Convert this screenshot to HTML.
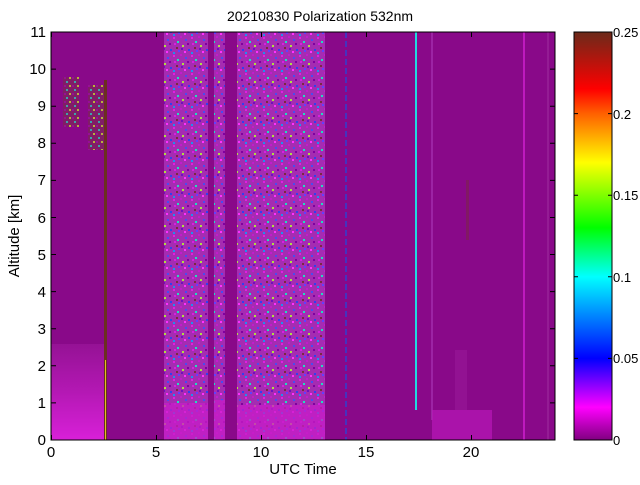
<!DOCTYPE html>
<html><head><meta charset="utf-8"><style>
body{margin:0;background:#fff;}
svg text{font-family:"Liberation Sans",sans-serif;}
</style></head><body>
<svg width="640" height="480" viewBox="0 0 640 480" xmlns="http://www.w3.org/2000/svg">
<defs>
<pattern id="noise" width="18" height="18" patternUnits="userSpaceOnUse">
<rect width="18" height="18" fill="#a52cb2"/>
<rect x="0" y="0" width="2" height="2" fill="#c21ccc"/>
<rect x="5" y="3" width="2" height="2" fill="#4a4cf0"/>
<rect x="11" y="1" width="2" height="2" fill="#e020e0"/>
<rect x="15" y="5" width="2" height="2" fill="#20e0c0"/>
<rect x="2" y="9" width="2" height="2" fill="#b0e040"/>
<rect x="8" y="13" width="2" height="2" fill="#3040f0"/>
<rect x="14" y="11" width="2" height="2" fill="#7a2a40"/>
<rect x="4" y="15" width="2" height="2" fill="#ff30ff"/>
<rect x="11" y="16" width="2" height="2" fill="#2090f0"/>
<rect x="7" y="7" width="2" height="2" fill="#8000a0"/>
<rect x="16" y="14" width="2" height="2" fill="#6040ff"/>
<rect x="1" y="12" width="2" height="2" fill="#7010c0"/>
<rect x="12" y="7" width="2" height="2" fill="#d820e0"/>
</pattern>
<pattern id="cir" width="8" height="8" patternUnits="userSpaceOnUse">
<rect width="8" height="8" fill="#802060"/>
<rect x="2" y="1" width="2" height="2" fill="#30c0b0"/>
<rect x="5" y="5" width="2" height="2" fill="#c0d030"/>
<rect x="0" y="5" width="2" height="2" fill="#9a109a"/>
</pattern>
<linearGradient id="bl" x1="0" y1="1" x2="0" y2="0">
<stop offset="0" stop-color="#d820d8"/><stop offset="0.5" stop-color="#b418b4"/><stop offset="1" stop-color="#951295"/>
</linearGradient>
<linearGradient id="cb" x1="0" y1="1" x2="0" y2="0">
<stop offset="0" stop-color="#800080"/>
<stop offset="0.08" stop-color="#ff00ff"/>
<stop offset="0.2" stop-color="#0000ff"/>
<stop offset="0.4" stop-color="#00ffff"/>
<stop offset="0.52" stop-color="#00ff00"/>
<stop offset="0.68" stop-color="#ffff00"/>
<stop offset="0.8" stop-color="#ff6000"/>
<stop offset="0.86" stop-color="#ff0000"/>
<stop offset="1" stop-color="#6b2a1a"/>
</linearGradient>
</defs>
<text x="320" y="21" font-size="14" text-anchor="middle">20210830 Polarization 532nm</text>
<rect x="51" y="32" width="504" height="408" fill="#890989"/>
<rect x="51" y="344" width="55" height="96" fill="url(#bl)"/>
<rect x="63" y="77" width="16" height="50" fill="url(#cir)" opacity="0.85"/>
<rect x="88" y="85" width="18" height="65" fill="url(#cir)" opacity="0.85"/>
<rect x="104" y="80" width="3" height="360" fill="#6b3020"/>
<rect x="105" y="360" width="1" height="80" fill="#e0c020"/>
<rect x="164" y="32" width="44" height="408" fill="url(#noise)"/>
<rect x="214" y="32" width="11" height="408" fill="url(#noise)"/>
<rect x="237" y="32" width="88" height="408" fill="url(#noise)"/>
<rect x="164" y="403" width="44" height="37" fill="#c81cc8" opacity="0.75"/>
<rect x="214" y="400" width="11" height="40" fill="#c81cc8" opacity="0.75"/>
<rect x="237" y="405" width="88" height="35" fill="#c81cc8" opacity="0.75"/>
<line x1="346" y1="32" x2="346" y2="440" stroke="#3040d0" stroke-width="1.5" stroke-dasharray="6 3"/>
<line x1="416" y1="32" x2="416" y2="410" stroke="#20d8e0" stroke-width="2"/>
<line x1="432" y1="32" x2="432" y2="420" stroke="#b040c0" stroke-width="1"/>
<line x1="524" y1="32" x2="524" y2="440" stroke="#d020d0" stroke-width="1.5"/>
<line x1="548" y1="32" x2="548" y2="440" stroke="#a030a0" stroke-width="1"/>
<rect x="432" y="410" width="60" height="30" fill="#b818b8" opacity="0.7"/>
<rect x="455" y="350" width="12" height="60" fill="#a020a0" opacity="0.4"/>
<rect x="466" y="180" width="3" height="60" fill="#7a2a40" opacity="0.5"/>
<rect x="51" y="32" width="504" height="408" fill="none" stroke="#000" stroke-width="1"/>
<g stroke="#000" stroke-width="1">
<path d="M51.5 440v-5M156.5 440v-5M261.5 440v-5M366.5 440v-5M471.5 440v-5M51.5 32v5M156.5 32v5M261.5 32v5M366.5 32v5M471.5 32v5"/>
<path d="M51 440h5M51 402.9h5M51 365.8h5M51 328.7h5M51 291.6h5M51 254.5h5M51 217.5h5M51 180.4h5M51 143.3h5M51 106.2h5M51 69.1h5M51 32h5
M555 440h-5M555 402.9h-5M555 365.8h-5M555 328.7h-5M555 291.6h-5M555 254.5h-5M555 217.5h-5M555 180.4h-5M555 143.3h-5M555 106.2h-5M555 69.1h-5M555 32h-5"/>
</g>
<g font-size="15" text-anchor="middle">
<text x="51" y="457">0</text><text x="156" y="457">5</text><text x="261" y="457">10</text><text x="366" y="457">15</text><text x="471" y="457">20</text>
</g>
<text x="303" y="474" font-size="15" text-anchor="middle">UTC Time</text>
<g font-size="15" text-anchor="end">
<text x="46" y="445">0</text><text x="46" y="408">1</text><text x="46" y="371">2</text><text x="46" y="334">3</text><text x="46" y="297">4</text><text x="46" y="260">5</text><text x="46" y="223">6</text><text x="46" y="185">7</text><text x="46" y="148">8</text><text x="46" y="111">9</text><text x="46" y="74">10</text><text x="46" y="37">11</text>
</g>
<text transform="translate(19,236) rotate(-90)" font-size="15" text-anchor="middle">Altitude [km]</text>
<rect x="574" y="32" width="38" height="408" fill="url(#cb)" stroke="#000"/>
<g stroke="#000"><path d="M612 32h-4M612 113.6h-4M612 195.2h-4M612 276.8h-4M612 358.4h-4M612 440h-4M574 113.6h4M574 195.2h4M574 276.8h4M574 358.4h4"/></g>
<g font-size="13">
<text x="613" y="37">0.25</text><text x="613" y="119">0.2</text><text x="613" y="200">0.15</text><text x="613" y="282">0.1</text><text x="613" y="363">0.05</text><text x="613" y="445">0</text>
</g>
</svg>
</body></html>
